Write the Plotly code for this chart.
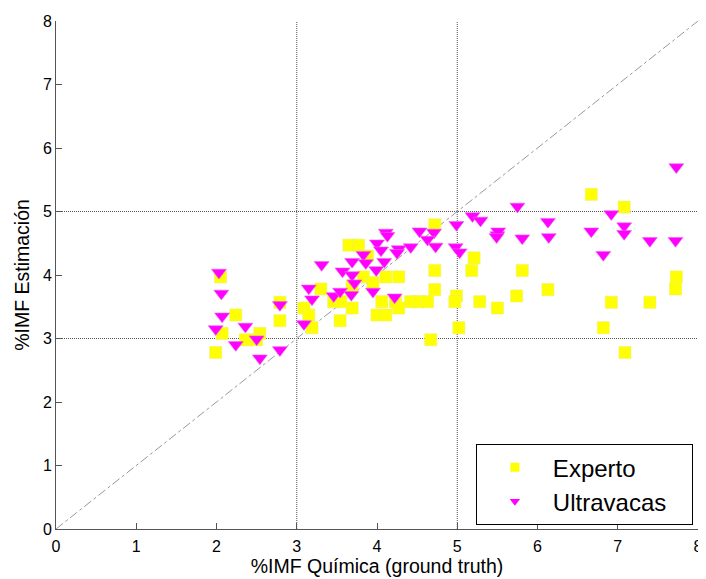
import plotly.graph_objects as go

# Experto (yellow squares)
experto_x = [2.05, 2.24, 2.07, 1.99, 2.36, 2.54, 2.50, 2.79, 2.79, 3.09, 3.15, 3.19, 3.30, 3.54,
             3.69, 3.65, 3.77, 3.46, 3.55, 3.69, 4.72, 5.21, 4.72, 5.18, 3.83, 4.11, 4.27, 3.95,
             4.72, 4.99, 4.97, 4.06, 4.23, 4.42, 4.52, 4.63, 5.28, 4.27, 5.50, 4.00, 4.11, 5.02,
             4.67, 3.88, 6.67, 7.08, 5.81, 7.73, 7.72, 6.13, 5.74, 6.92, 7.40, 6.82, 7.09]
experto_y = [3.97, 3.37, 3.08, 2.78, 2.98, 3.08, 2.98, 3.57, 3.28, 3.48, 3.37, 3.17, 3.78, 3.28,
             3.48, 4.47, 4.47, 3.58, 3.58, 3.83, 4.79, 4.27, 4.07, 4.07, 3.97, 3.97, 3.97, 3.88,
             3.77, 3.67, 3.58, 3.58, 3.58, 3.58, 3.58, 3.58, 3.58, 3.48, 3.48, 3.37, 3.37, 3.17,
             2.98, 4.30, 5.27, 5.07, 4.07, 3.97, 3.78, 3.77, 3.67, 3.57, 3.57, 3.17, 2.78]

# Ultravacas (magenta down-triangles)
ultra_x = [2.03, 2.06, 2.07, 1.99, 2.24, 2.36, 2.50, 2.54, 2.79, 2.79, 3.09, 3.15, 3.19, 3.31,
           3.46, 3.54, 3.57, 3.68, 3.69, 3.69, 3.72, 4.11, 4.13, 5.19, 5.29, 4.99, 5.50, 4.53,
           4.71, 4.63, 4.73, 4.00, 4.05, 4.27, 4.25, 4.42, 3.83, 3.86, 4.09, 4.98, 5.03, 3.99,
           3.95, 4.22, 7.73, 5.75, 6.92, 6.13, 7.08, 7.08, 5.51, 5.49, 5.81, 6.14, 6.67, 7.40,
           7.72, 6.82]
ultra_y = [4.04, 3.71, 3.35, 3.15, 2.90, 3.19, 2.99, 2.69, 3.53, 2.82, 3.23, 3.79, 3.62, 4.16,
           3.67, 3.74, 4.06, 3.69, 4.21, 4.00, 3.87, 4.67, 4.62, 4.93, 4.86, 4.79, 4.63, 4.69,
           4.67, 4.56, 4.45, 4.50, 4.39, 4.41, 4.35, 4.44, 4.32, 4.19, 4.21, 4.44, 4.36, 4.08,
           3.74, 3.65, 5.70, 5.08, 4.96, 4.84, 4.77, 4.65, 4.69, 4.60, 4.58, 4.60, 4.69, 4.54,
           4.54, 4.32]

axis_min, axis_max = 0, 8
ref_lines = [3, 5]
tick_vals = [0, 1, 2, 3, 4, 5, 6, 7, 8]
legend_names = ["Experto", "Ultravacas"]

FONT = "Liberation Sans, Arial, sans-serif"
YELLOW = "#FFFF00"
MAGENTA = "#FF00FF"

fig = go.Figure()
fig.add_trace(go.Scatter(
    x=experto_x, y=experto_y, mode="markers", name=legend_names[0], showlegend=False,
    marker=dict(symbol="square", size=12, color=YELLOW,
                line=dict(width=0.6, color="#F0F060")),
))
fig.add_trace(go.Scatter(
    x=ultra_x, y=ultra_y, mode="markers", name=legend_names[1], showlegend=False,
    marker=dict(symbol="triangle-down", size=13, color=MAGENTA,
                line=dict(width=0.6, color="#F060F0")),
))
# legend entries with the smaller legend glyphs of the reference
fig.add_trace(go.Scatter(x=[None], y=[None], mode="markers", name=legend_names[0],
                         marker=dict(symbol="square", size=9, color=YELLOW)))
fig.add_trace(go.Scatter(x=[None], y=[None], mode="markers",
                         name=legend_names[1] + "\u00a0\u00a0\u00a0",
                         marker=dict(symbol="triangle-down", size=9, color=MAGENTA)))

shapes = []
for v in ref_lines:
    shapes.append(dict(type="line", xref="x", yref="y", x0=v, x1=v, y0=axis_min, y1=axis_max,
                       line=dict(color="#555555", width=1, dash="1px,1px"), layer="below"))
    shapes.append(dict(type="line", xref="x", yref="y", x0=axis_min, x1=axis_max, y0=v, y1=v,
                       line=dict(color="#555555", width=1, dash="1px,1px"), layer="below"))
shapes.append(dict(type="line", xref="x", yref="y", x0=axis_min, y0=axis_min, x1=axis_max, y1=axis_max,
                   line=dict(color="#999999", width=1, dash="dashdot"), layer="below"))

axis_common = dict(
    range=[axis_min, axis_max], tickvals=tick_vals, showgrid=False, zeroline=False,
    showline=True, linecolor="#555555", linewidth=1, ticks="inside", ticklen=6,
    tickcolor="#555555", tickfont=dict(size=16, color="#000000", family=FONT), mirror=False,
    automargin=False,
)

# the page body adds an 8px offset, so the figure is 8px smaller than the 706x579 window
fig.update_layout(
    width=698, height=571,
    margin=dict(l=48, r=8, t=13, b=50, autoexpand=False),
    paper_bgcolor="white", plot_bgcolor="white",
    font=dict(family=FONT, color="#000000"),
    shapes=shapes,
    xaxis=dict(**axis_common, ticklabelstandoff=3,
               title=dict(text="%IMF Química (ground truth)",
                          font=dict(size=19.5, family=FONT), standoff=1)),
    yaxis=dict(**axis_common, title=dict(text="%IMF Estimación",
                                         font=dict(size=19.5, family=FONT), standoff=8)),
    legend=dict(x=0.654, y=0.0875, xanchor="left", yanchor="middle",
                bgcolor="white", bordercolor="#000000", borderwidth=1,
                font=dict(size=24, family=FONT), itemwidth=66,
                tracegroupgap=0),
    showlegend=True,
)

fig.write_html("out.html")
